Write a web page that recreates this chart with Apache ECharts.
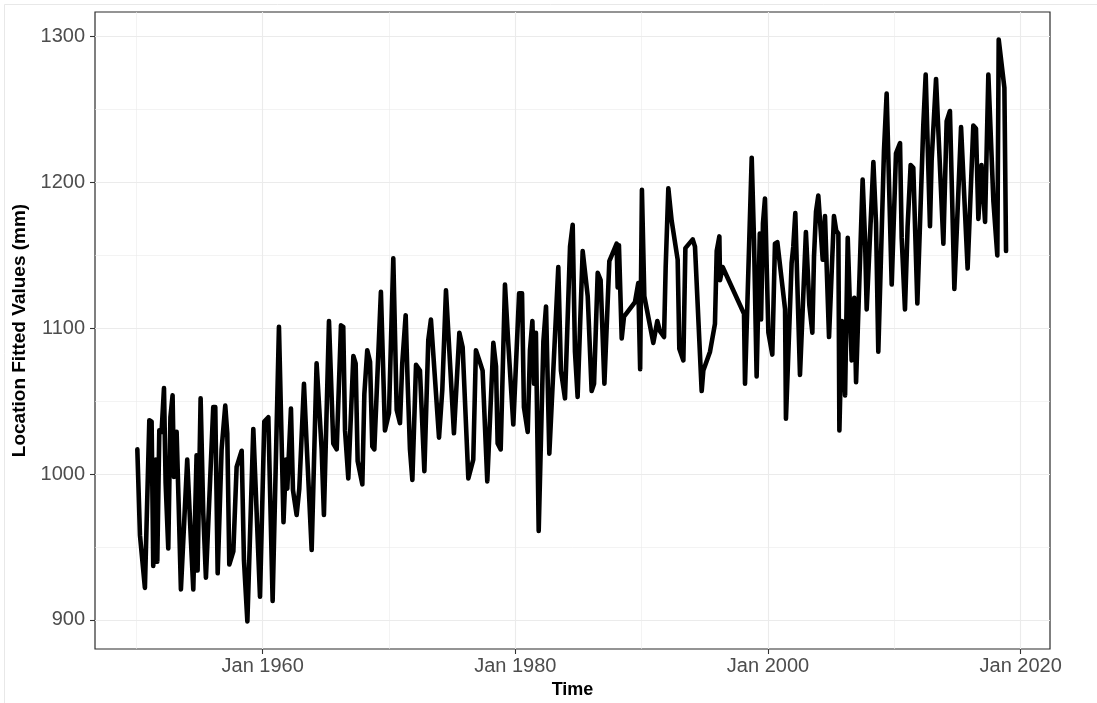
<!DOCTYPE html>
<html><head><meta charset="utf-8">
<script src="https://cdn.jsdelivr.net/npm/echarts@6/dist/echarts.min.js"></script>
<style>html,body{margin:0;padding:0;background:#fff}#c{width:1097px;height:703px}</style>
</head><body><div id="c"></div>
<script>
// Time in decimal years
const times = [
1950.08,1950.29,1950.68,1951.03,1951.21,1951.34,1951.55,1951.66,1951.82,1952.00,
1952.19,1952.32,1952.53,1952.70,1952.87,1952.98,1953.19,1953.35,1953.53,1954.03,
1954.33,1954.51,1954.77,1954.85,1955.09,1955.30,1955.51,1956.09,1956.25,1956.44,
1956.75,1957.04,1957.20,1957.36,1957.68,1957.94,1958.34,1958.52,1958.79,1959.26,
1959.79,1960.13,1960.45,1960.79,1961.29,1961.65,1961.85,1961.95,1962.24,1962.40,
1962.69,1962.90,1963.27,1963.48,1963.88,1964.27,1964.67,1964.85,1965.25,1965.59,
1965.86,1966.20,1966.38,1966.52,1966.78,1967.18,1967.36,1967.52,1967.89,1968.05,
1968.28,1968.50,1968.68,1968.84,1969.36,1969.68,1970.00,1970.34,1970.61,1970.87,
1971.05,1971.32,1971.48,1971.66,1971.85,1972.14,1972.45,1972.80,1973.11,1973.32,
1973.96,1974.22,1974.51,1975.14,1975.57,1975.83,1976.28,1976.67,1976.88,1977.15,
1977.41,1977.78,1978.26,1978.47,1978.60,1978.84,1979.18,1979.44,1979.84,1980.30,
1980.53,1980.68,1980.98,1981.16,1981.35,1981.48,1981.63,1981.85,1982.22,1982.43,
1982.69,1983.40,1983.61,1983.93,1984.06,1984.33,1984.54,1984.72,1984.93,1985.33,
1985.73,1986.04,1986.23,1986.52,1986.75,1987.05,1987.44,1988.02,1988.10,1988.20,
1988.42,1988.60,1989.47,1989.73,1989.88,1990.02,1990.21,1990.92,1991.24,1991.45,
1991.77,1991.90,1992.11,1992.37,1992.85,1992.98,1993.30,1993.46,1994.04,1994.22,
1994.75,1994.88,1995.41,1995.80,1995.94,1996.15,1996.20,1996.41,1998.10,1998.18,
1998.71,1998.89,1999.10,1999.35,1999.45,1999.60,1999.76,2000.03,2000.34,2000.55,
2000.74,2001.35,2001.42,2001.87,2002.00,2002.16,2002.53,2003.00,2003.12,2003.27,
2003.51,2003.64,2003.80,2003.98,2004.33,2004.51,2004.83,2005.22,2005.40,2005.57,
2005.65,2005.85,2006.10,2006.31,2006.62,2006.83,2006.97,2007.49,2007.68,2007.81,
2008.34,2008.55,2008.73,2009.18,2009.39,2009.79,2010.13,2010.45,2010.58,2010.84,
2011.05,2011.29,2011.50,2011.82,2012.29,2012.48,2012.82,2012.95,2013.30,2013.88,
2014.14,2014.40,2014.75,2015.28,2015.80,2016.25,2016.46,2016.65,2016.90,2017.18,
2017.44,2017.84,2018.15,2018.26,2018.71,2018.84
];
// Location fitted values (mm)
const values = [
1017,958,922,1037,1036,937,1010,940,1030,1029,
1059,994,949,1039,1054,998,1029,980,921,1010,
953,921,1013,934,1052,973,929,1046,1046,932,
1017,1047,1028,938,947,1005,1016,941,899,1031,
916,1036,1039,913,1101,967,1010,990,1045,989,
972,990,1062,1021,948,1076,1017,972,1105,1021,
1017,1102,1101,1030,997,1081,1076,1009,993,1055,
1085,1077,1019,1017,1125,1030,1042,1148,1044,1035,
1076,1109,1062,1017,996,1075,1071,1002,1092,1106,
1025,1058,1126,1028,1097,1087,997,1010,1085,1078,
1071,995,1090,1074,1021,1017,1130,1090,1034,1124,
1124,1046,1029,1085,1105,1062,1097,961,1091,1115,
1014,1142,1071,1052,1085,1156,1171,1084,1053,1153,
1122,1057,1062,1138,1133,1062,1146,1158,1128,1157,
1093,1108,1118,1131,1072,1195,1122,1090,1105,1098,
1094,1142,1196,1174,1147,1086,1078,1155,1161,1156,
1057,1071,1084,1103,1153,1163,1133,1142,1110,1062,
1217,1161,1067,1165,1106,1172,1189,1097,1082,1158,
1159,1113,1038,1145,1156,1179,1068,1166,1165,1116,
1097,1149,1180,1191,1147,1177,1094,1177,1167,1165,
1030,1105,1054,1162,1078,1121,1063,1202,1161,1113,
1214,1172,1084,1222,1261,1130,1220,1227,1162,1113,
1170,1212,1210,1117,1239,1274,1170,1215,1271,1158,
1242,1249,1127,1238,1141,1239,1237,1175,1212,1173,
1274,1187,1150,1298,1265,1153
];
const xMajorTicks = [1960, 1980, 2000, 2020];
const xMinorTicks = [1950, 1970, 1990, 2010];
const yMajorTicks = [900, 1000, 1100, 1200, 1300];
const yMinorTicks = [950, 1050, 1150, 1250];
const xTitle = 'Time';
const yTitle = 'Location Fitted Values (mm)';

const FONT = "'Liberation Sans', Arial, Helvetica, sans-serif";
const X_MIN = 1946.73, X_MAX = 2022.32, Y_MIN = 880.1, Y_MAX = 1316.9;

const chart = echarts.init(document.getElementById('c'), null, {renderer: 'canvas'});
const seriesData = times.map((t, i) => [t, values[i]]);

chart.setOption({
  animation: false,
  backgroundColor: '#ffffff',
  grid: {left: 95, right: 47, top: 12, bottom: 54, show: true, borderColor: '#2b2b2b', borderWidth: 1.2,
         backgroundColor: 'rgba(0,0,0,0)', containLabel: false, outerBoundsMode: 'none'},
  xAxis: [
    {type: 'value', min: X_MIN, max: X_MAX, position: 'bottom',
     axisLine: {show: false},
     axisTick: {show: true, length: 5, customValues: xMajorTicks, lineStyle: {color: '#333333', width: 1.1}},
     axisLabel: {customValues: xMajorTicks, formatter: v => 'Jan ' + v, color: '#4d4d4d', fontSize: 20, margin: 7, fontFamily: FONT},
     splitLine: {show: true, lineStyle: {color: '#ebebeb', width: 1.1}},
     name: xTitle, nameLocation: 'middle', nameGap: 30,
     nameTextStyle: {fontWeight: 'bold', fontSize: 18, color: '#000000', fontFamily: FONT}},
    {type: 'value', min: X_MIN, max: X_MAX, position: 'bottom',
     axisLine: {show: false},
     axisTick: {show: false, customValues: xMinorTicks},
     axisLabel: {show: false, customValues: xMinorTicks},
     splitLine: {show: true, lineStyle: {color: '#ebebeb', width: 0.6}}}
  ],
  yAxis: [
    {type: 'value', min: Y_MIN, max: Y_MAX,
     axisLine: {show: false},
     axisTick: {show: true, length: 5, customValues: yMajorTicks, lineStyle: {color: '#333333', width: 1.1}},
     axisLabel: {customValues: yMajorTicks, formatter: v => String(v), color: '#4d4d4d', fontSize: 20, margin: 10, fontFamily: FONT},
     splitLine: {show: true, lineStyle: {color: '#ebebeb', width: 1.1}},
     name: yTitle, nameLocation: 'middle', nameGap: 58, nameRotate: 90,
     nameTextStyle: {fontWeight: 'bold', fontSize: 19, color: '#000000', fontFamily: FONT}},
    {type: 'value', min: Y_MIN, max: Y_MAX,
     axisLine: {show: false},
     axisTick: {show: false, customValues: yMinorTicks},
     axisLabel: {show: false, customValues: yMinorTicks},
     splitLine: {show: true, lineStyle: {color: '#ebebeb', width: 0.6}}}
  ],
  graphic: [
    {type: 'polyline', silent: true, z: -10,
     shape: {points: [[4.5, 703], [4.5, 4.5], [1097, 4.5]]},
     style: {stroke: '#e8e8e8', lineWidth: 1, fill: null}}
  ],
  series: [{
    type: 'line', xAxisIndex: 0, yAxisIndex: 0,
    data: seriesData, showSymbol: false, symbol: 'none',
    lineStyle: {color: '#000000', width: 4.6, join: 'round', cap: 'round'},
    z: 5
  }]
});
</script></body></html>
